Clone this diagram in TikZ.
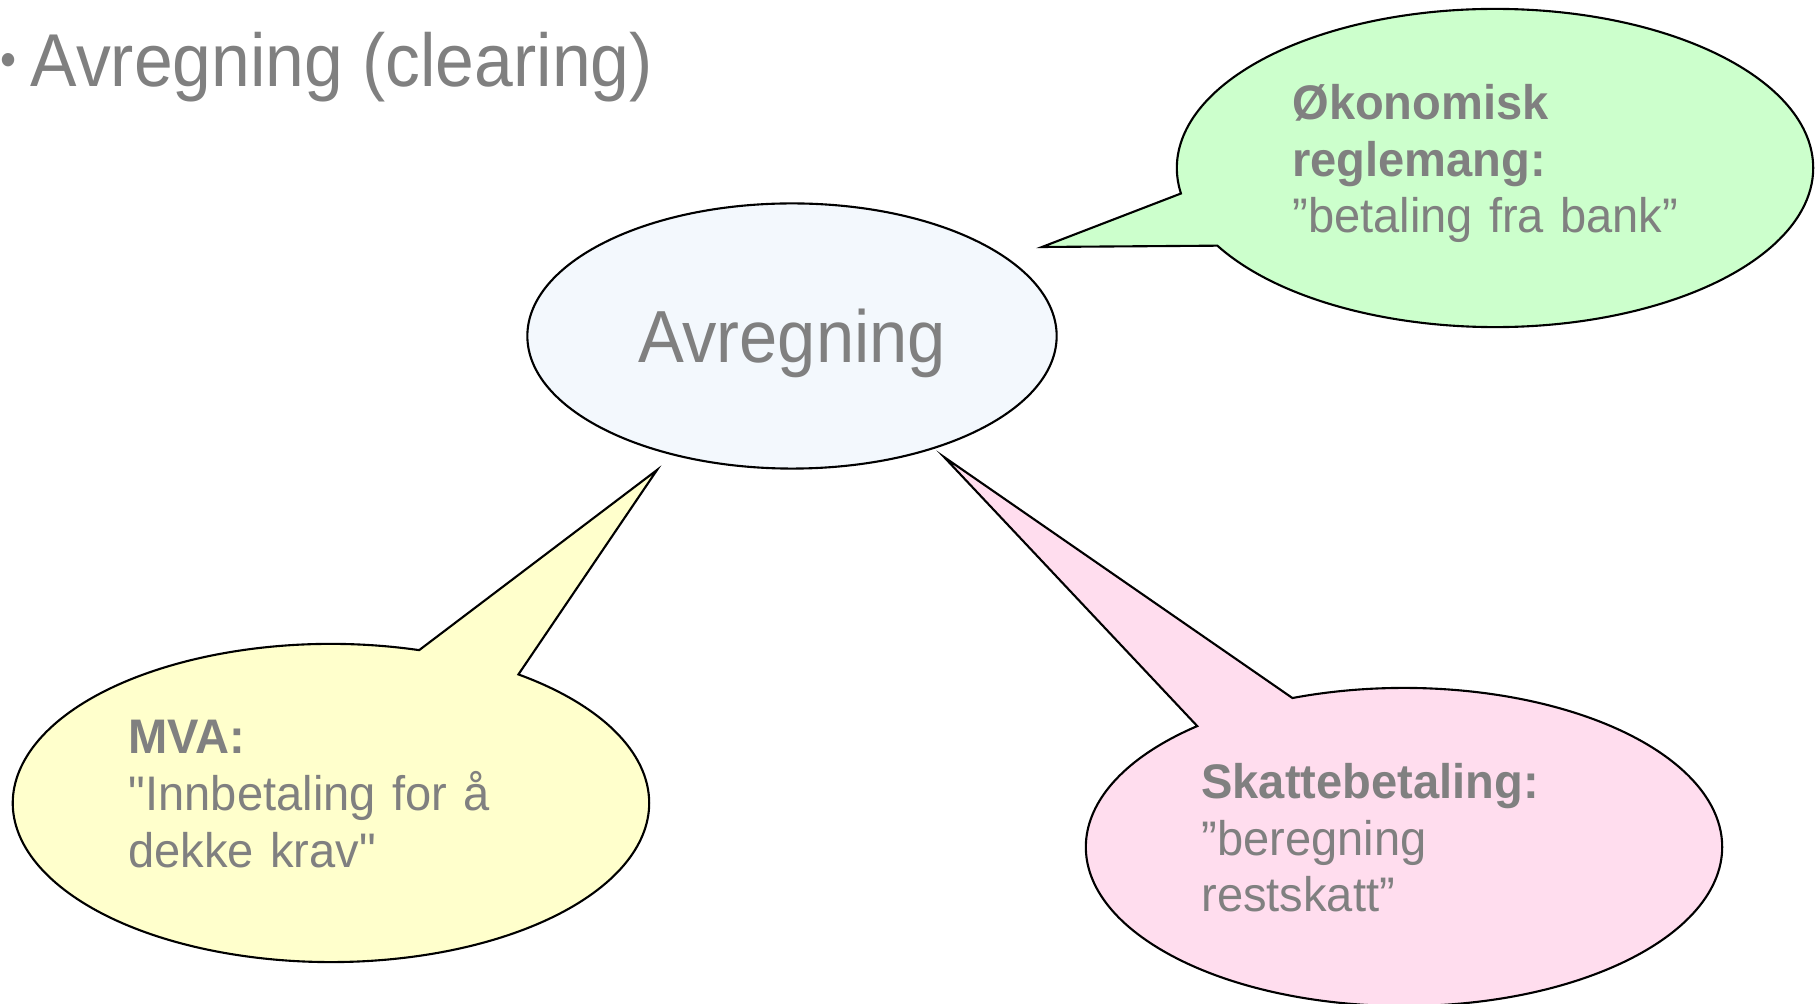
\documentclass[tikz,border=0pt]{standalone}
\usepackage{fontspec}
\setmainfont{Liberation Sans}[FakeStretch=0.97]
\newfontfamily\titlefont{Liberation Sans}[FakeStretch=0.93]
\usetikzlibrary{shapes.geometric, shapes.callouts, positioning}
\definecolor{txtgray}{HTML}{808080}
\definecolor{avrblue}{HTML}{F3F8FD}
\definecolor{bankgreen}{HTML}{CCFFCC}
\definecolor{mvayellow}{HTML}{FFFFCC}
\definecolor{skattpink}{HTML}{FFDDEE}

\begin{document}
\begin{tikzpicture}[
    x=0.01cm, y=-0.01cm,
    hub/.style={ellipse, draw, line width=0.6pt, fill=avrblue, minimum width=5.29cm, minimum height=2.65cm, text depth=0pt, font=\titlefont\fontsize{21}{25}\selectfont},
    bubble/.style={ellipse callout, draw, line width=0.6pt, callout pointer arc=20, minimum width=6.36cm, minimum height=3.18cm, text width=4.05cm, text depth=1.33cm, align=left, font=\fontsize{13.8}{16.2}\selectfont},
    every node/.style={text=txtgray}
]
\useasboundingbox (0,0) rectangle (1816,1004);

% Title
\node[anchor=base west, inner sep=0pt, font=\titlefont\fontsize{21.3}{25}\selectfont] (title) at (0,87) {\raisebox{3pt}{\fontsize{14}{14}\selectfont\textbullet}\hspace{4pt}Avregning (clearing)};

% Centre
\node[hub] (avr) at (792,336) {Avregning};

% Pointer tips
\coordinate (tipbank) at (1042,247);
\coordinate (tipmva) at (657,470);
\coordinate (tipskatt) at (944,457);

% Callouts
\node[bubble, fill=bankgreen, callout absolute pointer={(tipbank)}] (bank) at (1495,168) {\textbf{Økonomisk}\\\textbf{reglemang:}\\”betaling fra bank”};
\node[bubble, fill=mvayellow, callout absolute pointer={(tipmva)}] (mva) at (331,803) {\textbf{MVA:}\\\textquotedbl Innbetaling for å\\dekke krav\textquotedbl};
\node[bubble, fill=skattpink, callout absolute pointer={(tipskatt)}] (skatt) at (1404,847) {\textbf{Skattebetaling:}\\”beregning\\restskatt”};

\end{tikzpicture}
\end{document}
